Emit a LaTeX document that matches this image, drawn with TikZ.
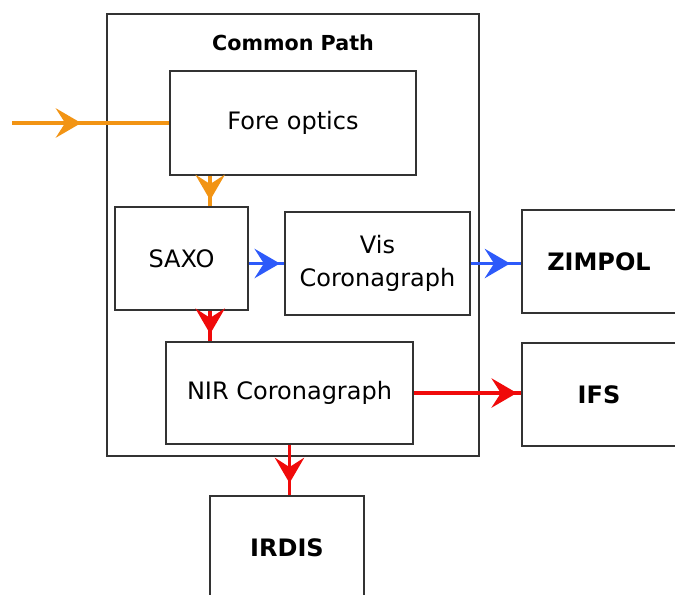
\documentclass[tikz,border=0pt]{standalone}
\usepackage{fontspec}
\setmainfont{DejaVu Sans}
\usetikzlibrary{arrows.meta,decorations.markings}

\begin{document}
\begin{tikzpicture}[x=0.75pt,y=-0.75pt]
		\tikzstyle{every node}+=[inner sep=0pt, font=\fontsize{18}{22}\selectfont]
		\tikzstyle{blk}=[draw=black!80, line width=1.3pt, fill=white]
		\tikzstyle{bold}=[font=\fontsize{18}{22}\selectfont\bfseries]
		\tikzstyle{flow}=[line width=2.6pt, postaction={decorate}]
		\tikzset{midarr/.style={decoration={markings, mark=at position #1 with {\arrow{Stealth[length=19pt,width=22pt,inset=7pt]}}}}}
		\definecolor{orflow}{RGB}{242,148,20}
		\definecolor{blflow}{RGB}{45,90,250}
		\definecolor{rdflow}{RGB}{240,10,10}
		\useasboundingbox (0,0) rectangle (675,594);
		\clip (0,0) rectangle (675,594);
		\node [blk, fill=none, minimum width=279pt, minimum height=331.5pt] (common) at (293,235) {};
		\node [font=\fontsize{15.5}{18}\selectfont\bfseries] (title) at (293,43) {Common Path};
		\node [blk, minimum width=184.5pt, minimum height=78pt] (fore) at (293,123) {Fore optics};
		\node [blk, minimum width=99.75pt, minimum height=77.25pt] (saxo) at (181.5,258.5) {SAXO};
		\node [blk, minimum width=138.75pt, minimum height=77.25pt, align=center] (vis) at (377.5,263.5) {Vis\\[3pt]Coronagraph};
		\node [blk, minimum width=185.25pt, minimum height=76.5pt] (nir) at (289.5,393) {NIR Coronagraph};
		\node [blk, bold, minimum width=115.5pt, minimum height=77.25pt] (zimpol) at (599,261.5) {ZIMPOL};
		\node [blk, bold, minimum width=115.5pt, minimum height=77.25pt] (ifs) at (599,394.5) {IFS};
		\node [blk, bold, minimum width=115.5pt, minimum height=78pt] (irdis) at (287,548) {IRDIS};
		\coordinate (light) at (12,123);
		\draw [flow, orflow, midarr=0.44] (light) -- (fore.west);
		\draw [flow, orflow, midarr=0.8] ([xshift=30.75pt]fore.south west) -- ([xshift=30.75pt]fore.south west |- saxo.north);
		\draw [flow, blflow, midarr=0.88] (vis.west -| saxo.east) -- (vis.west);
		\draw [flow, blflow, midarr=0.78] (vis.east) -- (vis.east -| zimpol.west);
		\draw [flow, rdflow, midarr=0.76] ([xshift=33.75pt]nir.north west |- saxo.south) -- ([xshift=33.75pt]nir.north west);
		\draw [flow, rdflow, midarr=0.96] (nir.east) -- (nir.east -| ifs.west);
		\draw [flow, rdflow, midarr=0.76] (nir.south) -- (nir.south |- irdis.north);
	\end{tikzpicture}
\end{document}
